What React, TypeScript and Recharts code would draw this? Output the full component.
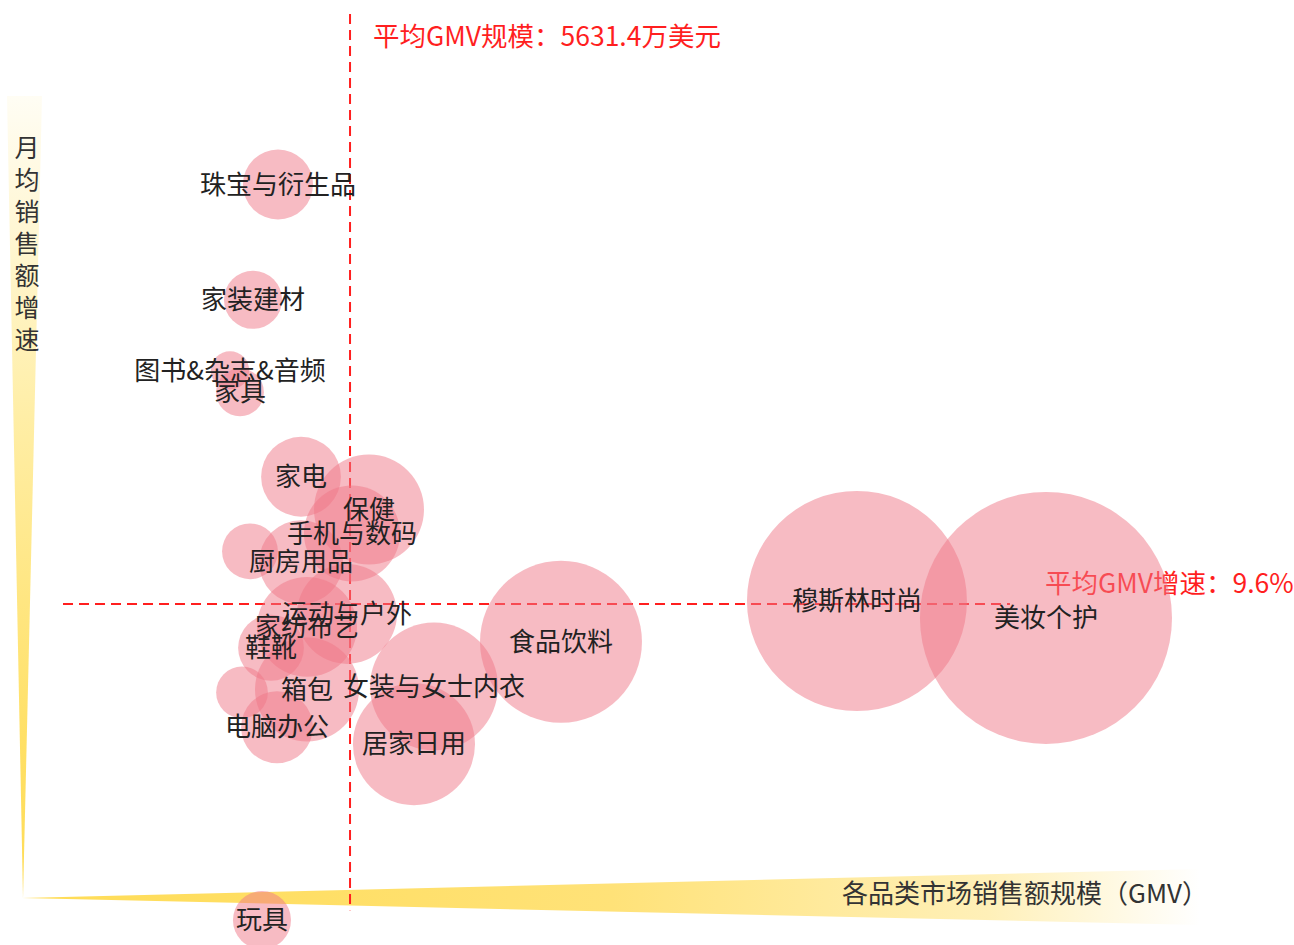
import { ScatterChart, Scatter, XAxis, YAxis, ZAxis, ReferenceLine, LabelList } from 'recharts';

// 品类（空名称为无标签的气泡）
const categories = [
  '珠宝与衍生品', '家装建材', '图书&杂志&音频', '家具', '家电', '保健', '手机与数码', '厨房用品', '',
  '运动与户外', '家纺布艺', '鞋靴', '箱包', '', '女装与女士内衣', '电脑办公', '居家日用', '食品饮料',
  '穆斯林时尚', '美妆个护', '玩具',
];
// 各品类GMV（万美元）
const gmv = [
  4395, 3966, 3571, 3742, 4790, 5957, 5665, 4790, 3914,
  5579, 4893, 4275, 4893, 3777, 7073, 4378, 6729, 9253,
  14334, 17579, 4120,
];
// 月均销售额增速（%）
const growth = [
  51.8, 40.2, 33.1, 30.9, 22.4, 19.1, 16.7, 13.8, 14.9,
  8.6, 7.3, 5.2, 1.0, 0.7, 1.3, -2.8, -4.5, 5.8,
  9.9, 8.2, -22.2,
];
// 气泡大小
const bubbleSize = [
  77, 53, 23, 36, 100, 190, 145, 111, 49,
  157, 157, 68, 170, 42, 257, 81, 234, 412,
  760, 998, 53,
];

const AVG_GMV = 5631.4;
const AVG_GROWTH = 9.6;

const data = categories.map((name, i) => ({ name, gmv: gmv[i], growth: growth[i], size: bubbleSize[i] }));

const FONT = '"Noto Sans CJK SC", "Noto Sans", sans-serif';
const RED = '#ff1f1f';

const VLabel = (props: any) => {
  const vb = props.viewBox || {};
  return (
    <text x={vb.x + 23} y={vb.y + 25} dominantBaseline="middle" fill={RED} fontSize={26.5} fontFamily={FONT}>
      {`平均GMV规模：${AVG_GMV}万美元`}
    </text>
  );
};

const HLabel = (props: any) => {
  const vb = props.viewBox || {};
  return (
    <text x={vb.x + vb.width + 35} y={vb.y - 18} dominantBaseline="middle" fill={RED} fontSize={26.5} fontFamily={FONT}>
      {`平均GMV增速：${AVG_GROWTH}%`}
    </text>
  );
};

const yTitle = '月均销售额增速';

export default function App() {
  return (
    <div style={{ position: 'absolute', left: 0, top: 0, width: 1294, height: 945, background: '#fff' }}>
      <svg width={1294} height={945} style={{ position: 'absolute', left: 0, top: 0 }}>
        <defs>
          <linearGradient id="yAxisGrad" x1="0" y1="0" x2="0" y2="1">
            <stop offset="0%" stopColor="#fffdf4" />
            <stop offset="40%" stopColor="#ffeea6" />
            <stop offset="80%" stopColor="#ffe066" />
            <stop offset="100%" stopColor="#ffdc55" />
          </linearGradient>
          <linearGradient id="xAxisGrad" x1="0" y1="0" x2="1" y2="0">
            <stop offset="0%" stopColor="#ffdc55" />
            <stop offset="50%" stopColor="#ffe278" />
            <stop offset="82%" stopColor="#fff0b8" />
            <stop offset="100%" stopColor="#ffffff" />
          </linearGradient>
        </defs>
        <polygon points="7,96 42,96 23,898" fill="url(#yAxisGrad)" />
        <polygon points="22,898 1200,869 1200,925" fill="url(#xAxisGrad)" />
        <text x={27} fontSize={25} fontFamily={FONT} fill="#333" textAnchor="middle">
          {yTitle.split('').map((c, i) => (
            <tspan key={i} x={27} y={157 + i * 32}>{c}</tspan>
          ))}
        </text>
        <text x={842} y={896} dominantBaseline="middle" fontSize={26} fontFamily={FONT} fill="#333">
          各品类市场销售额规模（GMV）
        </text>
      </svg>
      <div style={{ position: 'absolute', left: 0, top: 0 }}>
        <ScatterChart width={1294} height={945} margin={{ top: 103, right: 107, bottom: 7, left: 22 }}>
          <XAxis type="number" dataKey="gmv" domain={[0, 20000]} hide />
          <YAxis type="number" dataKey="growth" domain={[-24, 60]} hide />
          <ZAxis type="number" dataKey="size" domain={[0, 1000]} range={[0, 50000]} />
          <Scatter data={data} fill="#f07888" fillOpacity={0.5} isAnimationActive={false}>
            <LabelList dataKey="name" position="center" fill="#222" fontSize={26} fontFamily={FONT} />
          </Scatter>
          <ReferenceLine
            segment={[{ x: AVG_GMV, y: 68.95 }, { x: AVG_GMV, y: -21.2 }]}
            stroke={RED}
            strokeWidth={2}
            strokeDasharray="10 6"
            ifOverflow="visible"
            label={<VLabel />}
          />
          <ReferenceLine
            segment={[{ x: 704, y: AVG_GROWTH }, { x: 16961, y: AVG_GROWTH }]}
            stroke={RED}
            strokeWidth={2}
            strokeDasharray="10 6"
            ifOverflow="visible"
            label={<HLabel />}
          />
        </ScatterChart>
      </div>
    </div>
  );
}
